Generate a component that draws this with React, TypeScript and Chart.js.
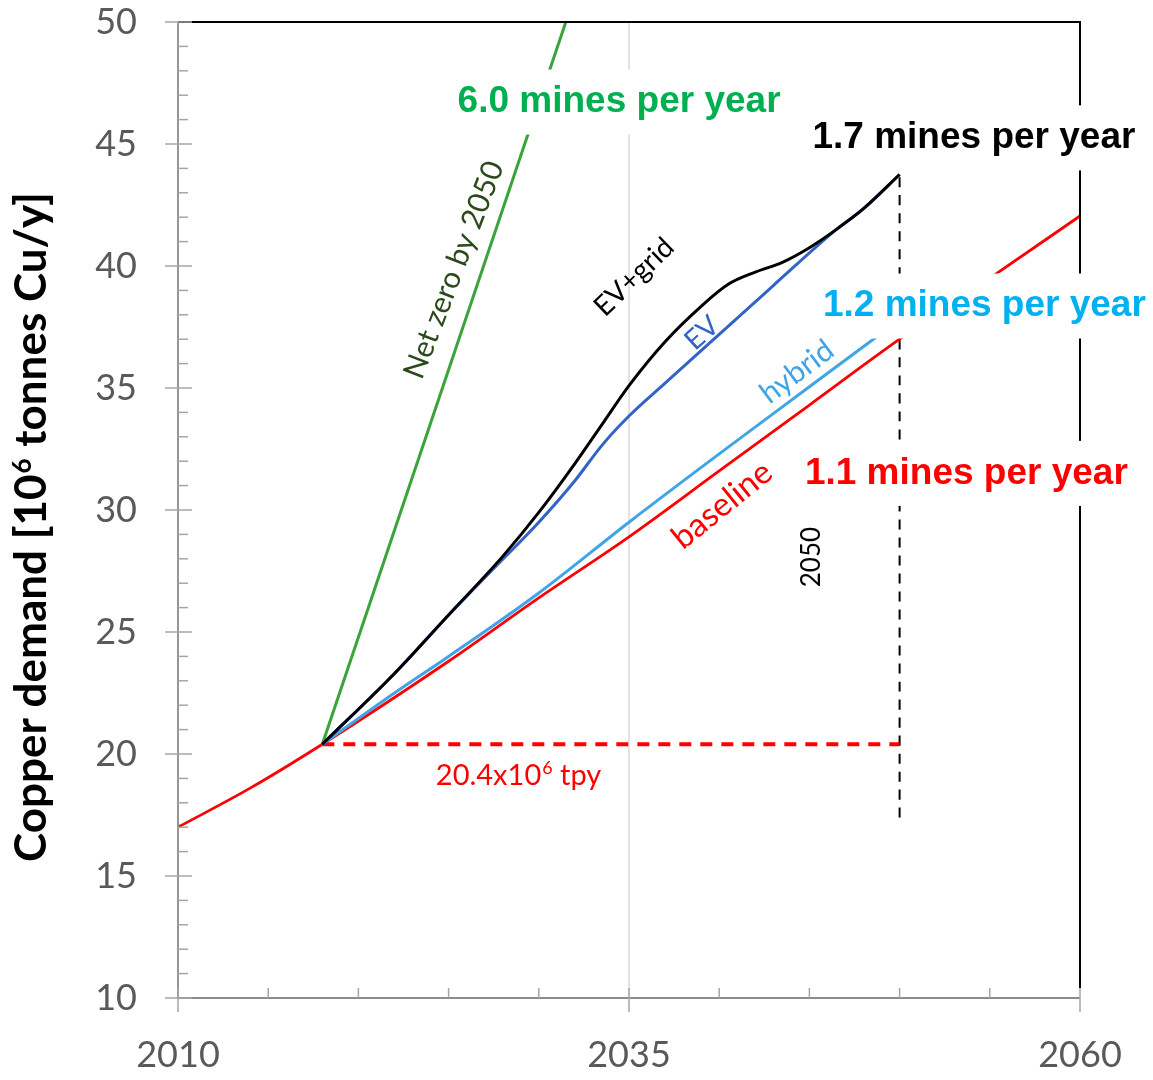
import React, { useEffect, useRef } from "react";
import { Chart, registerables } from "chart.js";

Chart.register(...registerables);

// ---------- data ----------
const baselineYears = [2010, 2014, 2018, 2025, 2030, 2035, 2040, 2045, 2050, 2055, 2060];
const baselineValues = [17.0, 18.6, 20.4, 23.8, 26.4, 28.9, 31.6, 34.3, 37.0, 39.5, 42.05];

const hybridYears = [2018, 2022, 2025, 2030, 2035, 2040, 2045, 2050];
const hybridValues = [20.4, 22.5, 24.0, 26.6, 29.5, 32.3, 35.05, 37.8];

const evYears = [2018, 2022, 2025, 2027.5, 2030, 2032, 2033.5, 2035, 2037, 2040, 2043, 2046.5, 2048, 2050];
const evValues = [20.4, 23.3, 25.7, 27.6, 29.5, 31.2, 32.65, 33.85, 35.2, 37.2, 39.2, 41.5, 42.35, 43.75];

const evGridYears = [2018, 2022, 2025, 2028, 2030, 2032, 2033.5, 2035, 2037, 2039, 2040.5, 2042, 2043.5, 2045, 2046.5, 2048, 2050];
const evGridValues = [20.4, 23.3, 25.7, 28.1, 29.9, 31.9, 33.5, 35.1, 36.9, 38.35, 39.25, 39.75, 40.15, 40.75, 41.5, 42.35, 43.75];

const netZeroYears = [2018, 2032];
const netZeroValues = [20.4, 51.1];

const supplyYears = [2018, 2050];
const supplyValues = [20.4, 20.4];

const marker2050Years = [2050, 2050];
const marker2050Values = [17.4, 43.75];

const xTickLabels = [2010, 2035, 2060];
const yTickLabels = [10, 15, 20, 25, 30, 35, 40, 45, 50];

const pts = (xs: number[], ys: number[]) => xs.map((x, i) => ({ x, y: ys[i] }));

// ---------- annotations (data coordinates) ----------
const boxLabels = [
  { text: "6.0 mines per year", x: 2034.45, y: 46.72, color: "#00b050" },
  { text: "1.7 mines per year", x: 2054.12, y: 45.25, color: "#000000" },
  { text: "1.2 mines per year", x: 2054.7, y: 38.36, color: "#00b0f0" },
  { text: "1.1 mines per year", x: 2053.7, y: 31.5, color: "#ff0000" },
];

const rotLabels = [
  { text: "Net zero by 2050", x: 2025.3, y: 39.84, angle: -69, color: "#2b4a1c", size: 30 },
  { text: "EV+grid", x: 2035.28, y: 39.55, angle: -44, color: "#000000", size: 28 },
  { text: "EV", x: 2039.05, y: 37.25, angle: -42, color: "#3264c8", size: 28 },
  { text: "hybrid", x: 2044.31, y: 35.66, angle: -37, color: "#3fa5e8", size: 30 },
  { text: "baseline", x: 2040.16, y: 30.2, angle: -39, color: "#ff0000", size: 33 },
  { text: "2050", x: 2045.14, y: 28.07, angle: -90, color: "#000000", size: 26 },
];

export default function App() {
  const ref = useRef<HTMLCanvasElement>(null);

  useEffect(() => {
    const canvas = ref.current!;

    const decor = {
      id: "decor",
      beforeDatasetsDraw(chart: any) {
        const { ctx, chartArea: a, scales } = chart;
        const xs = scales.x;
        ctx.save();
        ctx.strokeStyle = "#d9d9d9";
        ctx.lineWidth = 1.5;
        const gx = xs.getPixelForValue(2035);
        ctx.beginPath();
        ctx.moveTo(gx, a.top);
        ctx.lineTo(gx, a.bottom);
        ctx.stroke();
        ctx.restore();
      },
      afterDatasetsDraw(chart: any) {
        const { ctx, chartArea: a, scales } = chart;
        const xs = scales.x;
        const ys = scales.y;
        ctx.save();
        // top & right border (black)
        ctx.strokeStyle = "#000";
        ctx.lineWidth = 2;
        ctx.beginPath();
        ctx.moveTo(a.left, a.top);
        ctx.lineTo(a.right, a.top);
        ctx.lineTo(a.right, a.bottom - 10);
        ctx.stroke();
        // axes (gray)
        ctx.strokeStyle = "#8c8c8c";
        ctx.lineWidth = 1.8;
        ctx.beginPath();
        ctx.moveTo(a.left, a.top);
        ctx.lineTo(a.left, a.bottom);
        ctx.lineTo(a.right, a.bottom);
        ctx.stroke();
        // y ticks
        ctx.lineWidth = 1.5;
        ctx.strokeStyle = "#a6a6a6";
        for (let v = 10; v <= 50; v += 1) {
          const py = ys.getPixelForValue(v);
          ctx.beginPath();
          if (v % 5 === 0) {
            ctx.moveTo(a.left - 13, py);
            ctx.lineTo(a.left + 14, py);
          } else {
            ctx.moveTo(a.left, py);
            ctx.lineTo(a.left + 10, py);
          }
          ctx.stroke();
        }
        // x ticks
        for (let yr = 2010; yr <= 2060; yr += 5) {
          const px = xs.getPixelForValue(yr);
          ctx.beginPath();
          ctx.moveTo(px, a.bottom - 10);
          if (xTickLabels.includes(yr)) ctx.lineTo(px, a.bottom + 14);
          else ctx.lineTo(px, a.bottom);
          ctx.stroke();
        }
        ctx.restore();
      },
      afterDraw(chart: any) {
        const { ctx, scales } = chart;
        const xs = scales.x;
        const ys = scales.y;
        ctx.save();
        // boxed labels
        ctx.font = "bold 37px 'Liberation Sans', Arial, sans-serif";
        ctx.textAlign = "center";
        ctx.textBaseline = "middle";
        for (const b of boxLabels) {
          const px = xs.getPixelForValue(b.x);
          const py = ys.getPixelForValue(b.y);
          const w = ctx.measureText(b.text).width + 20;
          ctx.fillStyle = "#fff";
          ctx.fillRect(px - w / 2, py - 32.5, w, 65);
          ctx.fillStyle = b.color;
          ctx.fillText(b.text, px, py);
        }
        // rotated labels
        for (const r of rotLabels) {
          const px = xs.getPixelForValue(r.x);
          const py = ys.getPixelForValue(r.y);
          ctx.save();
          ctx.translate(px, py);
          ctx.rotate((r.angle * Math.PI) / 180);
          ctx.font = `${r.size}px Lato, sans-serif`;
          ctx.fillStyle = r.color;
          ctx.textAlign = "center";
          ctx.textBaseline = "middle";
          ctx.fillText(r.text, 0, 0);
          ctx.restore();
        }
        // supply label with superscript
        {
          const px = xs.getPixelForValue(2028.85);
          const py = ys.getPixelForValue(19.14);
          const big = "29px Lato, sans-serif";
          const small = "18px Lato, sans-serif";
          const p1 = "20.4x10", p2 = "6", p3 = " tpy";
          ctx.font = big;
          const w1 = ctx.measureText(p1).width;
          const w3 = ctx.measureText(p3).width;
          ctx.font = small;
          const w2 = ctx.measureText(p2).width;
          let sx = px - (w1 + w2 + w3) / 2;
          ctx.fillStyle = "#ff0000";
          ctx.textAlign = "left";
          ctx.textBaseline = "alphabetic";
          const base = py + 10;
          ctx.font = big;
          ctx.fillText(p1, sx, base);
          sx += w1;
          ctx.font = small;
          ctx.fillText(p2, sx + 1, base - 11);
          sx += w2 + 1;
          ctx.font = big;
          ctx.fillText(p3, sx, base);
        }
        // y-axis title
        {
          const cx = 31;
          const cy = 528;
          const big = "bold 44px Lato, sans-serif";
          const small = "bold 26px Lato, sans-serif";
          const p1 = "Copper demand [10", p2 = "6", p3 = " tonnes Cu/y]";
          ctx.save();
          ctx.translate(cx, cy);
          ctx.rotate(-Math.PI / 2);
          ctx.font = big;
          const w1 = ctx.measureText(p1).width;
          const w3 = ctx.measureText(p3).width;
          ctx.font = small;
          const w2 = ctx.measureText(p2).width;
          let sx = -(w1 + w2 + w3) / 2;
          ctx.fillStyle = "#000";
          ctx.textAlign = "left";
          ctx.textBaseline = "alphabetic";
          const base = 15;
          ctx.font = big;
          ctx.fillText(p1, sx, base);
          sx += w1;
          ctx.font = small;
          ctx.fillText(p2, sx + 1, base - 15);
          sx += w2 + 2;
          ctx.font = big;
          ctx.fillText(p3, sx, base);
          ctx.restore();
        }
        ctx.restore();
      },
    };

    const line = (data: any, color: string, width: number, extra: any = {}) => ({
      data,
      borderColor: color,
      backgroundColor: color,
      borderWidth: width,
      pointRadius: 0,
      fill: false,
      cubicInterpolationMode: "monotone",
      ...extra,
    });

    const chart = new Chart(canvas, {
      type: "line",
      data: {
        datasets: [
          line(pts(evGridYears, evGridValues), "#000000", 3),
          line(pts(evYears, evValues), "#3264c8", 3),
          line(pts(hybridYears, hybridValues), "#3fa5e8", 3),
          line(pts(baselineYears, baselineValues), "#ff0000", 2.8),
          line(pts(netZeroYears, netZeroValues), "#3aa43a", 3),
          line(pts(supplyYears, supplyValues), "#ff0000", 4, { borderDash: [12, 9] }),
          line(pts(marker2050Years, marker2050Values), "#000000", 2, { borderDash: [10, 8] }),
        ] as any,
      },
      options: {
        animation: false,
        responsive: true,
        maintainAspectRatio: false,
        layout: { padding: { top: 22, right: 73, left: 0, bottom: 0 } },
        plugins: { legend: { display: false }, tooltip: { enabled: false }, title: { display: false } },
        scales: {
          x: {
            type: "linear",
            min: 2010,
            max: 2060,
            afterBuildTicks: (s: any) => {
              s.ticks = xTickLabels.map((v) => ({ value: v }));
            },
            afterFit: (s: any) => {
              s.height = 82;
              s.paddingLeft = 0;
              s.paddingRight = 0;
              s.paddingTop = 0;
              s.paddingBottom = 0;
            },
            grid: { display: false, drawTicks: false },
            border: { display: false },
            ticks: {
              font: { family: "Lato", size: 36 },
              color: "#595959",
              padding: 36,
              maxRotation: 0,
              autoSkip: false,
              callback: (v: any) => String(v),
            },
          },
          y: {
            type: "linear",
            min: 10,
            max: 50,
            afterBuildTicks: (s: any) => {
              s.ticks = yTickLabels.map((v) => ({ value: v }));
            },
            afterFit: (s: any) => {
              s.width = 178;
              s.paddingLeft = 0;
              s.paddingRight = 0;
              s.paddingTop = 0;
              s.paddingBottom = 0;
            },
            grid: { display: false, drawTicks: false },
            border: { display: false },
            ticks: {
              font: { family: "Lato", size: 36 },
              color: "#595959",
              padding: 41,
              autoSkip: false,
              callback: (v: any) => String(v),
            },
          },
        },
      } as any,
      plugins: [decor],
    });
    return () => chart.destroy();
  }, []);

  return (
    <div style={{ position: "absolute", left: 0, top: 0, width: 1153, height: 1080, background: "#fff" }}>
      <canvas ref={ref} />
    </div>
  );
}
